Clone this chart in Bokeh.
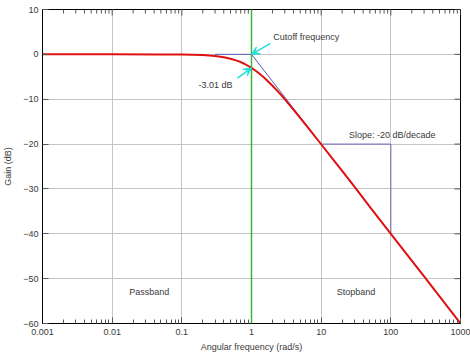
import math
from bokeh.plotting import figure
from bokeh.models import FixedTicker, Arrow, VeeHead, Label, Span
from bokeh.embed import file_html
from bokeh.resources import INLINE

# Magnitude response (rad/s, dB)
freq = [0.001, 0.01, 0.05, 0.1, 0.2, 0.3, 0.4, 0.5, 0.6, 0.7, 0.8, 1.0, 1.2, 1.5,
        2.0, 2.5, 3.0, 4.0, 5.0, 7.0, 10.0, 15.0, 20.0, 30.0, 50.0, 100.0, 300.0, 1000.0]
gain = [0.0, 0.0, -0.01, -0.04, -0.17, -0.37, -0.64, -0.97, -1.34, -1.71, -2.15, -3.01,
        -3.87, -5.12, -6.99, -8.60, -10.0, -12.3, -14.15, -17.0, -20.04, -23.5, -26.0,
        -29.5, -34.0, -40.0, -49.5, -60.0]

# Asymptote and slope triangle
asym_x = [0.3, 1.0, 10.0]
asym_y = [0.0, 0.0, -20.0]
tri_x = [10.0, 100.0, 100.0]
tri_y = [-20.0, -20.0, -40.0]
cutoff_freq = 1.0

x_min, x_max = 0.001, 1000
y_min, y_max = -60, 10
x_ticks = [0.001, 0.01, 0.1, 1, 10, 100, 1000]
x_tick_labels = ["0.001", "0.01", "0.1", "1", "10", "100", "1000"]
x_minor = [m * d for d in [0.001, 0.01, 0.1, 1, 10, 100] for m in range(2, 10)]
y_ticks = [-60, -50, -40, -30, -20, -10, 0, 10]

# Annotations: (text, x, y, align)
labels = [("Cutoff frequency", 2.06, 3.8, "left"),
          ("-3.01 dB", 0.535, -6.9, "right"),
          ("Slope: -20 dB/decade", 25.0, -18.0, "left"),
          ("Passband", 0.034, -53.0, "center"),
          ("Stopband", 31.6, -53.0, "center")]
arrows = [(1.87, 2.45, 1.0, 0.0), (0.63, -5.3, 1.0, -3.01)]

FONT = "Liberation Sans"
TXT = "#3a3a3a"

p = figure(width=470, height=354, x_axis_type="log", x_range=(x_min, x_max),
           y_range=(y_min, y_max), output_backend="svg", toolbar_location=None,
           min_border_left=0, min_border_right=10, min_border_top=9, min_border_bottom=0)
p.outline_line_color = "black"
p.outline_line_width = 1
p.background_fill_color = "white"

xt = FixedTicker(ticks=x_ticks, minor_ticks=x_minor)
yt = FixedTicker(ticks=y_ticks)

xa = p.xaxis[0]
xa.ticker = xt
xa.major_label_overrides = {t: l for t, l in zip(x_ticks, x_tick_labels)}
xa.axis_label = "Angular frequency (rad/s)"
xa.major_label_standoff = 5
xa.axis_label_standoff = 4

ya = p.yaxis[0]
ya.ticker = yt
ya.axis_label = "Gain (dB)"
ya.major_label_standoff = 4
ya.axis_label_standoff = 7
ya.minor_tick_in = 0
ya.minor_tick_out = 0

for ax in (xa, ya):
    ax.major_tick_in = 6
    ax.major_tick_out = 0
    ax.major_label_text_font = FONT
    ax.major_label_text_font_size = "9px"
    ax.major_label_text_color = TXT
    ax.axis_label_text_font = FONT
    ax.axis_label_text_font_size = "9px"
    ax.axis_label_text_font_style = "normal"
    ax.axis_label_text_color = TXT
    ax.axis_line_color = "black"
    ax.major_tick_line_color = "#555555"
    ax.minor_tick_line_color = "#555555"
xa.minor_tick_in = 4
xa.minor_tick_out = 0

p.xgrid.ticker = xt
p.ygrid.ticker = yt
p.grid.grid_line_color = "#c4c4c4"
p.grid.grid_line_width = 1

# inward tick marks on the top and right frame edges
p.ray(x=x_ticks, y=[y_max] * len(x_ticks), length=6, length_units="screen",
      angle=-math.pi / 2, line_color="#555555", line_width=1)
p.ray(x=x_minor, y=[y_max] * len(x_minor), length=4, length_units="screen",
      angle=-math.pi / 2, line_color="#555555", line_width=1)
p.ray(x=[x_max] * len(y_ticks), y=y_ticks, length=6, length_units="screen",
      angle=math.pi, line_color="#555555", line_width=1)

p.add_layout(Span(location=cutoff_freq, dimension="height", line_color="#2fb52f",
                  line_width=1.4))

p.line(asym_x, asym_y, line_color="#5a5ab4", line_width=1)
p.line(tri_x, tri_y, line_color="#6a6ab8", line_width=1)
p.line(freq, gain, line_color="#e01010", line_width=2)

for xs, ys, xe, ye in arrows:
    p.add_layout(Arrow(x_start=xs, y_start=ys, x_end=xe, y_end=ye, line_color="#22dddd",
                       line_width=1.5,
                       end=VeeHead(size=8, line_color="#22dddd", fill_color="#22dddd")))

for txt, x, y, align in labels:
    p.add_layout(Label(x=x, y=y, text=txt, text_align=align, text_baseline="middle",
                       text_font=FONT, text_font_size="9px", text_color=TXT))

open("out.html", "w").write(file_html(p, INLINE))
